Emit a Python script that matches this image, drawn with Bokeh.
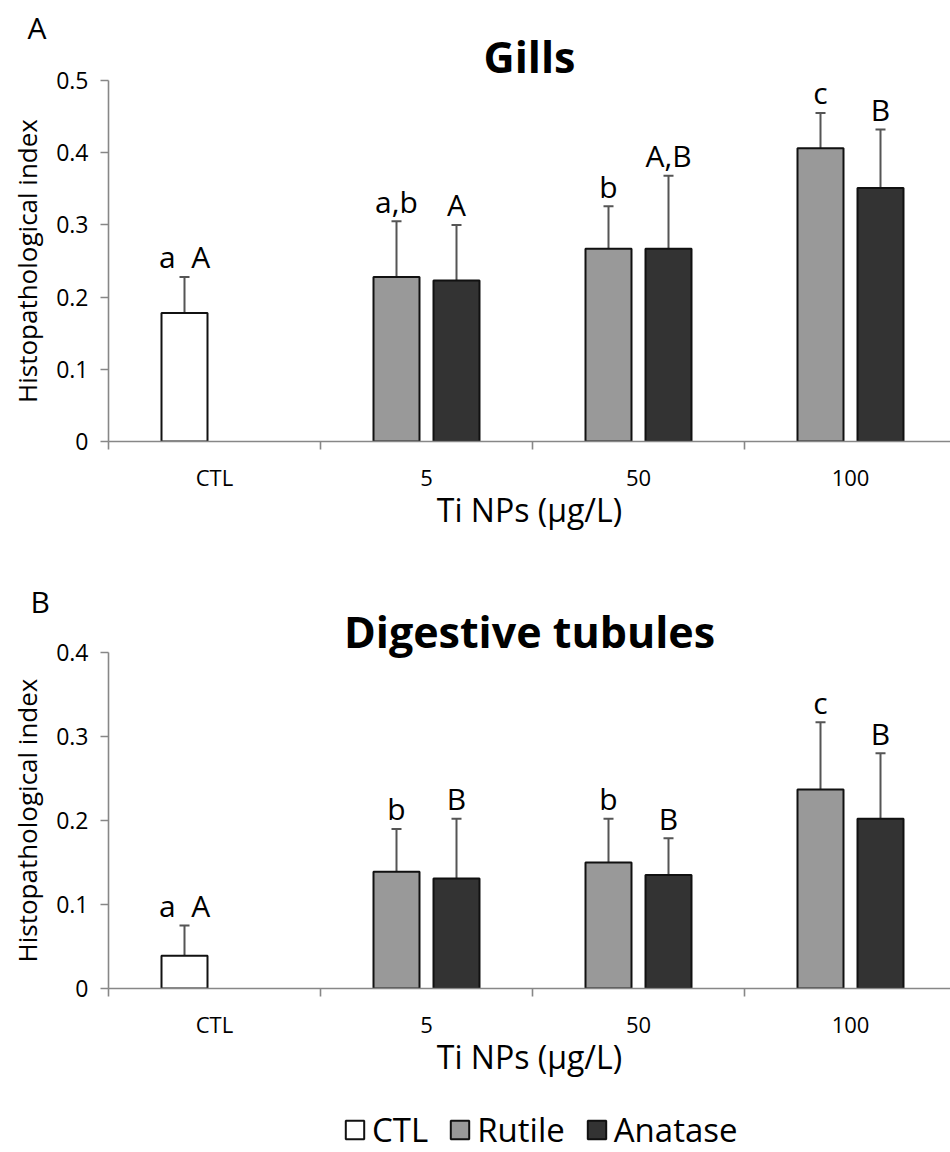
from bokeh.plotting import figure
from bokeh.models import (ColumnDataSource, FixedTicker, LinearAxis, Range1d, Whisker,
                          TeeHead, Title, Legend, LegendItem)
from bokeh.layouts import column
from bokeh.embed import file_html
from bokeh.resources import INLINE
from bokeh.core.properties import value

# ---------------- data ----------------
categories = ["CTL", "5", "50", "100"]
series_names = ["CTL", "Rutile", "Anatase"]

gills_ctl = [0.178]
gills_ctl_err = [0.050]
gills_ctl_sig = ["a\u00a0\u00a0A"]
gills_rutile = [0.228, 0.267, 0.406]
gills_rutile_err = [0.077, 0.059, 0.049]
gills_rutile_sig = ["a,b", "b", "c"]
gills_anatase = [0.223, 0.267, 0.351]
gills_anatase_err = [0.077, 0.101, 0.081]
gills_anatase_sig = ["A", "A,B", "B"]

dig_ctl = [0.039]
dig_ctl_err = [0.036]
dig_ctl_sig = ["a\u00a0\u00a0A"]
dig_rutile = [0.139, 0.150, 0.237]
dig_rutile_err = [0.051, 0.052, 0.080]
dig_rutile_sig = ["b", "b", "c"]
dig_anatase = [0.131, 0.135, 0.202]
dig_anatase_err = [0.071, 0.044, 0.078]
dig_anatase_sig = ["B", "B", "B"]

gills_y_ticks = [0, 0.1, 0.2, 0.3, 0.4, 0.5]
dig_y_ticks = [0, 0.1, 0.2, 0.3, 0.4]

x_title = "Ti NPs (µg/L)"
y_title = "Histopathological index"

# ---------------- style ----------------
FONT = "Open Sans"
AXIS_COLOR = "#878787"
ERR_COLOR = "#555555"
OUTLINE = "#111111"
COLORS = {"CTL": "#ffffff", "Rutile": "#999999", "Anatase": "#333333"}
CAT_PX = 212.0
FRAME_W = 842
OFF = 30 / CAT_PX
BAR_W = 46 / CAT_PX


def make_panel(title, letter, ctl, ctl_err, ctl_sig, rut, rut_err, rut_sig,
               ana, ana_err, ana_sig, y_ticks, height, top, bottom,
               title_standoff, letter_standoff, letter_offset):
    p = figure(width=950, height=height, output_backend="svg", toolbar_location=None,
               x_range=Range1d(0.5, 0.5 + FRAME_W / CAT_PX),
               y_range=Range1d(0, y_ticks[-1]),
               x_axis_type=None, y_axis_type=None,
               min_border_left=108, min_border_right=0,
               min_border_top=top, min_border_bottom=bottom)
    p.outline_line_color = None
    p.background_fill_color = "white"
    p.border_fill_color = "white"
    p.title.visible = False

    # titles (closest to frame first)
    p.add_layout(Title(text=title, align="center", vertical_align="bottom",
                       standoff=title_standoff, text_font=FONT, text_font_size="43px",
                       text_font_style="bold", text_color="black"), "above")
    p.add_layout(Title(text=letter, align="left", vertical_align="bottom",
                       standoff=letter_standoff, offset=letter_offset, text_font=FONT,
                       text_font_size="30px", text_font_style="normal",
                       text_color="black"), "above")

    pos = {c: i + 1 for i, c in enumerate(categories)}

    # y axis
    yaxis = LinearAxis(ticker=FixedTicker(ticks=y_ticks, minor_ticks=[]))
    yaxis.major_label_overrides = {0: "0"}
    yaxis.axis_label = y_title
    yaxis.axis_label_text_font = FONT
    yaxis.axis_label_text_font_size = "26px"
    yaxis.axis_label_text_font_style = "normal"
    yaxis.axis_label_text_color = "black"
    yaxis.axis_label_standoff = 8
    yaxis.major_label_text_font = FONT
    yaxis.major_label_text_font_size = "23px"
    yaxis.major_label_text_color = "black"
    yaxis.major_label_standoff = 12
    yaxis.axis_line_color = AXIS_COLOR
    yaxis.axis_line_width = 1.6
    yaxis.major_tick_line_color = AXIS_COLOR
    yaxis.major_tick_line_width = 1.6
    yaxis.major_tick_out = 8
    yaxis.major_tick_in = 0
    yaxis.minor_tick_line_color = None
    p.add_layout(yaxis, "left")

    # x axis: labels at category centres, ticks at category boundaries
    centres = [pos[c] for c in categories]
    bounds = [c - 0.5 for c in centres] + [centres[-1] + 0.5]
    xaxis = LinearAxis(ticker=FixedTicker(ticks=centres, minor_ticks=bounds))
    xaxis.major_label_overrides = {pos[c]: c for c in categories}
    xaxis.major_tick_line_color = None
    xaxis.major_tick_out = 0
    xaxis.major_tick_in = 0
    xaxis.minor_tick_line_color = AXIS_COLOR
    xaxis.minor_tick_line_width = 1.6
    xaxis.minor_tick_out = 8
    xaxis.minor_tick_in = 0
    xaxis.axis_line_color = AXIS_COLOR
    xaxis.axis_line_width = 1.6
    xaxis.major_label_text_font = FONT
    xaxis.major_label_text_font_size = "22px"
    xaxis.major_label_text_color = "black"
    xaxis.major_label_standoff = 12
    xaxis.axis_label = x_title
    xaxis.axis_label_text_font = FONT
    xaxis.axis_label_text_font_size = "32px"
    xaxis.axis_label_text_font_style = "normal"
    xaxis.axis_label_text_color = "black"
    xaxis.axis_label_standoff = -7
    p.add_layout(xaxis, "below")

    # bars, error bars, significance letters
    groups = [
        ("CTL", [pos[categories[0]] - OFF], ctl, ctl_err, ctl_sig),
        ("Rutile", [pos[c] - OFF for c in categories[1:]], rut, rut_err, rut_sig),
        ("Anatase", [pos[c] + OFF for c in categories[1:]], ana, ana_err, ana_sig),
    ]
    for name, xs, vals, errs, sigs in groups:
        src = ColumnDataSource(dict(x=xs, top=vals,
                                    upper=[v + e for v, e in zip(vals, errs)],
                                    sig=sigs))
        w = Whisker(base="x", lower="top", upper="upper", source=src,
                    dimension="height", line_color=ERR_COLOR, line_width=2,
                    upper_head=TeeHead(size=10, line_color=ERR_COLOR, line_width=2),
                    lower_head=None)
        p.add_layout(w)
        p.vbar(x="x", top="top", width=BAR_W, source=src,
               fill_color=COLORS[name], line_color=OUTLINE, line_width=2)
        p.text(x="x", y="upper", text="sig", source=src, text_align="center",
               text_baseline="middle", y_offset=-20, text_font=value(FONT),
               text_font_size="30px", text_color="black")
    return p


pa = make_panel("Gills", "A", gills_ctl, gills_ctl_err, gills_ctl_sig,
                gills_rutile, gills_rutile_err, gills_rutile_sig,
                gills_anatase, gills_anatase_err, gills_anatase_sig,
                gills_y_ticks, height=575, top=80, bottom=134,
                title_standoff=-11, letter_standoff=-35, letter_offset=-81)
pb = make_panel("Digestive tubules", "B", dig_ctl, dig_ctl_err, dig_ctl_sig,
                dig_rutile, dig_rutile_err, dig_rutile_sig,
                dig_anatase, dig_anatase_err, dig_anatase_sig,
                dig_y_ticks, height=530, top=77, bottom=117,
                title_standoff=-17, letter_standoff=-27, letter_offset=-78)

# legend strip (legend swatches only; no data drawn here)
pl = figure(width=950, height=47, output_backend="svg", toolbar_location=None,
            x_range=Range1d(0, 1), y_range=Range1d(0, 1),
            x_axis_type=None, y_axis_type=None, min_border=0)
pl.outline_line_color = None
pl.title.visible = False
legend_items = []
for name in series_names:
    r = pl.vbar(x=[float("nan")], top=[float("nan")], width=0.1,
                fill_color=COLORS[name], line_color=OUTLINE, line_width=2)
    legend_items.append(LegendItem(label=name, renderers=[r]))
legend = Legend(items=legend_items, orientation="horizontal", location=(235, 0),
                glyph_width=23, glyph_height=23, label_standoff=6, spacing=20,
                padding=0, margin=0, border_line_color=None,
                background_fill_alpha=0, label_text_font=FONT,
                label_text_font_size="33px", label_text_color="black")
pl.add_layout(legend)

layout = column(pa, pb, pl, spacing=0)
open("out.html", "w").write(file_html(layout, INLINE))
